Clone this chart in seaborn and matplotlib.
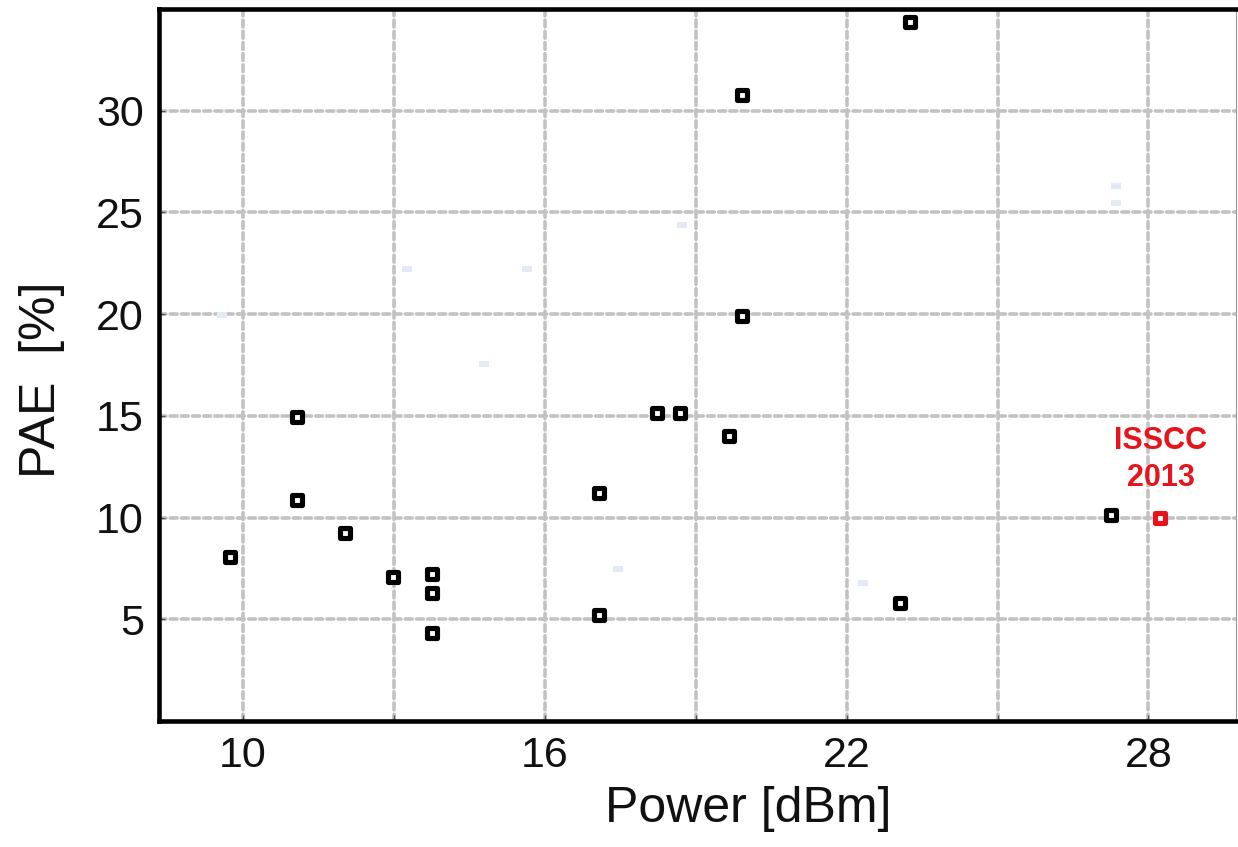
import matplotlib
matplotlib.use("Agg")
import matplotlib.pyplot as plt
import seaborn as sns
import pandas as pd

# ----------------------------
# data
# ----------------------------
power_dbm = [9.74, 11.07, 11.07, 12.02, 12.98, 13.75, 13.75, 13.75, 17.08, 17.08,
             18.22, 18.68, 19.66, 19.91, 19.91, 23.25, 23.07, 27.26]
pae_pct = [8.05, 14.92, 10.85, 9.23, 7.07, 7.21, 6.27, 4.31, 11.19, 5.21,
           15.12, 15.12, 13.99, 30.75, 19.92, 34.38, 5.80, 10.15]

# very faint (washed out) points in the background
faint_power = [9.59, 13.27, 15.64, 14.79, 17.46, 18.72, 22.33, 27.35, 27.35]
faint_pae = [19.95, 22.23, 22.23, 17.55, 7.45, 24.36, 6.79, 26.29, 25.44]

isscc_power = [28.22]
isscc_pae = [10.0]

x_major = [10, 16, 22, 28]
x_minor = [13, 19, 25]
y_ticks = [5, 10, 15, 20, 25, 30]

df = pd.DataFrame({"power": power_dbm, "pae": pae_pct})
df_faint = pd.DataFrame({"power": faint_power, "pae": faint_pae})
df_red = pd.DataFrame({"power": isscc_power, "pae": isscc_pae})

sns.set_theme(style="white")
plt.rcParams["font.family"] = ["Liberation Sans", "DejaVu Sans"]

fig = plt.figure(figsize=(12.38, 8.47), dpi=100)
ax = fig.add_axes([159 / 1238, 1 - 721 / 847, (1236 - 159) / 1238, (721 - 9) / 847])

# grid first so markers sit on top
grid_kw = dict(color="#c2c2c2", linewidth=2.6, linestyle=(0, (1.9, 1.2)),
               dash_capstyle="round", zorder=0)
for xv in x_major + x_minor:
    ax.axvline(xv, **grid_kw)
for yv in y_ticks:
    ax.axhline(yv, **grid_kw)

rect = [(-1, -0.7), (1, -0.7), (1, 0.7), (-1, 0.7)]
sns.scatterplot(data=df_faint, x="power", y="pae", ax=ax, marker=rect, s=45,
                color="#e3eaf5", linewidth=0, zorder=2)
sns.scatterplot(data=df, x="power", y="pae", ax=ax, marker="s", s=42,
                facecolor="white", edgecolor="black", linewidth=3.7, zorder=3)
sns.scatterplot(data=df_red, x="power", y="pae", ax=ax, marker="s", s=42,
                facecolor="white", edgecolor="#e8141b", linewidth=3.7, zorder=3)
for coll in ax.collections:
    coll.set_joinstyle("round")

ax.text(28.25, 12.85, "ISSCC\n2013", color="#e8141b", fontsize=22,
        fontweight="bold", ha="center", va="center", linespacing=1.3)

ax.set_xlim(8.33, 29.74)
ax.set_ylim(0, 35)
ax.set_xticks(x_major)
ax.set_xticks(x_minor, minor=True)
ax.set_yticks(y_ticks)
ax.tick_params(axis="both", which="both", direction="in", length=4, width=1,
               color="#555555", labelsize=31, labelcolor="#111111")
ax.tick_params(axis="x", which="major", pad=11)
ax.tick_params(axis="y", which="major", pad=11)
ax.tick_params(axis="x", which="minor", labelbottom=False)
ax.tick_params(bottom=True, left=True, which="both")

ax.set_xlabel("Power [dBm]", fontsize=36, color="#111111", labelpad=7)
ax.set_ylabel("PAE  [%]", fontsize=36, color="#111111", labelpad=22)
ax.xaxis.label.set_x(0.547)
ax.yaxis.label.set_y(0.479)

for side in ["left", "bottom", "top"]:
    ax.spines[side].set_color("black")
    ax.spines[side].set_linewidth(3.3)
ax.spines["right"].set_color("#999999")
ax.spines["right"].set_linewidth(0.8)

fig.savefig("out.png", dpi=100)
